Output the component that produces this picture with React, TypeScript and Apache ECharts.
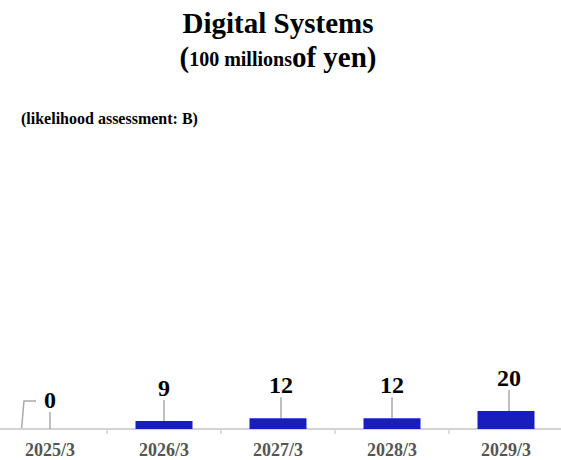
import React, { useEffect, useRef } from "react";
import * as echarts from "echarts";

const categories = ["2025/3", "2026/3", "2027/3", "2028/3", "2029/3"];
const values = [0, 9, 12, 12, 20];
const titleText = "Digital Systems";
const unitSmall = "100 millions";
const unitLarge = "of yen)";
const noteText = "(likelihood assessment: B)";

const SERIF = "'Liberation Serif', 'Times New Roman', serif";

export default function App() {
  const ref = useRef<HTMLDivElement>(null);
  useEffect(() => {
    if (!ref.current) return;
    const chart = echarts.init(ref.current, undefined, { renderer: "svg" });
    chart.setOption({
      animation: false,
      title: [
        {
          text: titleText,
          left: "center",
          top: 3,
          textStyle: { fontFamily: SERIF, fontWeight: "bold", fontSize: 29, color: "#000" },
        },
        {
          text: "{b|(}{s|" + unitSmall + "}{b|" + unitLarge + "}",
          left: "center",
          top: 37,
          textStyle: {
            rich: {
              b: { fontFamily: SERIF, fontWeight: "bold", fontSize: 29, color: "#000" },
              s: { fontFamily: SERIF, fontWeight: "bold", fontSize: 20, color: "#000", padding: [4, 0, 0, 0] },
            },
          },
        },
        {
          text: noteText,
          left: 23,
          top: 105,
          textStyle: { fontFamily: SERIF, fontWeight: "bold", fontSize: 16, color: "#000" },
        },
      ],
      grid: { left: 0, right: 0, top: 159, bottom: 31 },
      xAxis: {
        type: "category",
        data: categories,
        axisLine: { lineStyle: { color: "#d3d3d3", width: 2 } },
        axisTick: { show: true, length: 5, lineStyle: { color: "#d3d3d3", width: 1.5 } },
        axisLabel: {
          fontFamily: SERIF,
          fontWeight: "bold",
          fontSize: 18,
          color: "#555",
          margin: 12,
        },
      },
      yAxis: { type: "value", min: 0, max: 300, show: false, splitLine: { show: false } },
      series: [
        {
          type: "bar",
          data: values,
          barWidth: "50%",
          itemStyle: { color: "#181ebe" },
          label: {
            show: true,
            position: "top",
            distance: 5,
            fontFamily: SERIF,
            fontWeight: "bold",
            fontSize: 24,
            color: "#000",
          },
          labelLine: { show: true, lineStyle: { color: "#aaa", width: 1.5 } },
          labelLayout: (params: any) => {
            if (params.dataIndex === 0) return { dy: -12 };
            const dx = params.dataIndex % 2 === 0 ? 3 : 0;
            return { dy: -16, dx };
          },
        },
      ],
    });
    // guide line for the zero-height bar, from the library's own pixel positions
    const p0 = chart.convertToPixel({ seriesIndex: 0 }, [0, values[0]]) as number[];
    const p1 = chart.convertToPixel({ seriesIndex: 0 }, [1, values[0]]) as number[];
    const halfBar = (p1[0] - p0[0]) * 0.25;
    const bx = p0[0] - halfBar;
    const by = p0[1];
    chart.setOption({
      graphic: [
        {
          type: "polyline",
          silent: true,
          shape: {
            points: [
              [bx, by],
              [bx + 2.5, by - 28],
              [p0[0] - 14, by - 28],
            ],
          },
          style: { stroke: "#aaa", lineWidth: 1.5, fill: null },
        },
      ],
    });
    return () => chart.dispose();
  }, []);
  return (
    <div style={{ position: "absolute", left: 0, top: 0, width: 561, height: 460, overflow: "hidden" }}>
      <div ref={ref} style={{ width: 570, height: 460, position: "absolute", left: -7, top: 0 }} />
    </div>
  );
}
